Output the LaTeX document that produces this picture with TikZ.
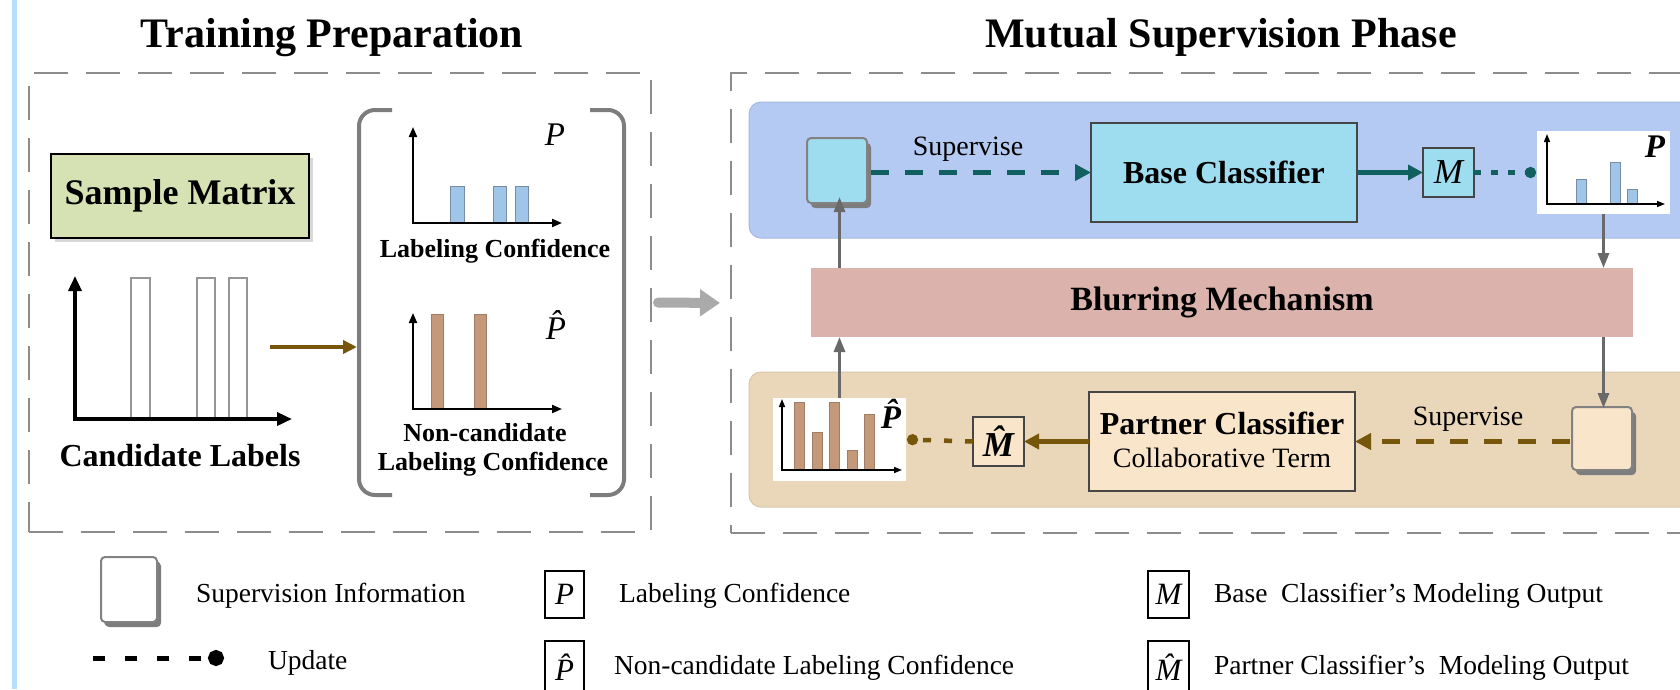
\documentclass[tikz,border=0pt]{standalone}
\usepackage{fontspec}
\setmainfont{Liberation Serif}
\usetikzlibrary{arrows.meta,shadows}

\definecolor{sidebar}{RGB}{179,224,255}
\definecolor{framegray}{RGB}{140,140,140}
\definecolor{matrixgreen}{RGB}{214,225,180}
\definecolor{confblue}{RGB}{159,197,232}
\definecolor{pbaredge}{RGB}{120,140,165}
\definecolor{noncand}{RGB}{196,153,122}
\definecolor{nbaredge}{RGB}{160,125,100}
\definecolor{panelblue}{RGB}{180,202,242}
\definecolor{panelblueedge}{RGB}{165,185,225}
\definecolor{cyanbox}{RGB}{158,220,240}
\definecolor{arrowteal}{RGB}{16,96,96}
\definecolor{blurpink}{RGB}{219,178,172}
\definecolor{paneltan}{RGB}{234,215,186}
\definecolor{paneltanedge}{RGB}{215,198,172}
\definecolor{peach}{RGB}{249,229,202}
\definecolor{arrowbrown}{RGB}{117,86,10}
\definecolor{linkgray}{RGB}{105,105,105}
\definecolor{bracketgray}{RGB}{125,125,125}
\definecolor{bigarrowgray}{RGB}{170,170,170}
\definecolor{cubeedge}{RGB}{130,130,130}
\definecolor{cubeshade}{RGB}{125,125,125}
\definecolor{blockedge}{RGB}{70,70,70}
\definecolor{candedge}{RGB}{150,150,150}

\newcommand\pxsize[1]{\fontsize{#1}{#1}\selectfont}

\begin{document}
\begin{tikzpicture}[x=1pt, y=-1pt,
  every node/.style={inner sep=0pt, outer sep=0pt},
  dashframe/.style={draw=framegray, line width=2pt, dash pattern=on 34pt off 18pt},
  matrixbox/.style={draw=black, line width=2.2pt, fill=matrixgreen,
    drop shadow={shadow xshift=4pt, shadow yshift=-4pt, opacity=0.3}},
  panel/.style={rounded corners=12pt, line width=1pt},
  cube/.style={draw=cubeedge, line width=2pt, rounded corners=4pt,
    general shadow={fill=cubeshade, shadow xshift=4pt, shadow yshift=-5pt}},
  block/.style={draw=blockedge, line width=1.3pt},
  chartbg/.style={fill=white},
  axisbold/.style={line width=3.5pt, >={Triangle[length=15pt,width=13pt]}, <->},
  axisthin/.style={line width=2pt, >={Triangle[length=10pt,width=8pt]}, <->},
  axistiny/.style={line width=1.5pt, >={Triangle[length=8pt,width=6pt]}, <->},
  candbar/.style={fill=white, draw=candedge, line width=1.5pt},
  pbar/.style={fill=confblue, draw=pbaredge, line width=1pt},
  nbar/.style={fill=noncand, draw=nbaredge, line width=1pt},
  tealdash/.style={draw=arrowteal, line width=5pt, dash pattern=on 18pt off 16pt,
    -{Triangle[length=16pt,width=16pt]}},
  tealsolid/.style={draw=arrowteal, line width=4.5pt, -{Triangle[length=15pt,width=15pt]}},
  tealdot/.style={draw=arrowteal, line width=4.5pt, dash pattern=on 7pt off 10pt,
    -{Circle[length=11pt]}},
  browndash/.style={draw=arrowbrown, line width=5pt, dash pattern=on 18pt off 16pt,
    -{Triangle[length=16pt,width=16pt]}},
  brownsolid/.style={draw=arrowbrown, line width=4.5pt, -{Triangle[length=15pt,width=15pt]}},
  browndot/.style={draw=arrowbrown, line width=4.5pt, dash pattern=on 8pt off 13pt,
    -{Circle[length=11pt]}},
  linkarrow/.style={draw=linkgray, line width=3pt, -{Triangle[length=15pt,width=11pt]}},
  bracketline/.style={draw=bracketgray, line width=4pt, rounded corners=16pt},
  bigarrow/.style={draw=bigarrowgray, line width=10pt, line cap=round,
    -{Triangle[length=20pt,width=26pt]}},
  updateline/.style={draw=black, line width=5pt, dash pattern=on 12pt off 20pt,
    -{Circle[length=16pt]}},
  legbox/.style={draw=black, line width=1.5pt, fill=white, font=\pxsize{31}\itshape},
  legtext/.style={font=\pxsize{27.5}, anchor=base west},
  titletext/.style={font=\pxsize{42}\bfseries, anchor=base},
  supertext/.style={font=\pxsize{28}, anchor=base},
]
\useasboundingbox (0,0) rectangle (1680,689);
\clip (0,0) rectangle (1680,689);
\fill[white] (0,0) rectangle (1680,689);
\fill[sidebar] (12,0) rectangle (17,689);

% ---------- headings ----------
\node[titletext] (titleprep) at (332,47) {Training Preparation};
\node[titletext] (titlemutual) at (1221,47) {Mutual Supervision Phase};

% ---------- frames ----------
\node[dashframe, anchor=north west, minimum width=622pt, minimum height=459pt] (prepframe) at (29,73) {};
\node[dashframe, anchor=north west, minimum width=1000pt, minimum height=460pt] (mutualframe) at (731,73) {};

% ---------- training preparation ----------
\node[matrixbox, anchor=north west, minimum width=258pt, minimum height=84pt,
      font=\pxsize{36}\bfseries] (samplematrix) at (51,154) {Sample Matrix};

% candidate label chart
\draw[candbar] (131,278) rectangle (150,419);
\draw[candbar] (197,278) rectangle (215,419);
\draw[candbar] (229,278) rectangle (247,419);
\coordinate (candY) at (75,276);
\coordinate (candX) at (292,419);
\draw[axisbold] (candY) |- (candX);
\node[font=\pxsize{32}\bfseries, anchor=base] (candlabel) at (180,466) {Candidate Labels};

\coordinate (candout) at (270,347);
\coordinate (bracketin) at (357,347);
\draw[draw=arrowbrown, line width=4pt, -{Triangle[length=14pt,width=13pt]}] (candout) -- (bracketin);

% bracket around the two confidence charts
\draw[bracketline] (392,110) -- (359,110) -- (359,495) -- (392,495);
\draw[bracketline] (590,110) -- (624,110) -- (624,495) -- (590,495);

% labeling confidence chart
\draw[pbar] (450,186) rectangle (464,223);
\draw[pbar] (493,186) rectangle (506,223);
\draw[pbar] (515,186) rectangle (528,223);
\coordinate (confY) at (413,127);
\coordinate (confX) at (562,223);
\draw[axisthin] (confY) |- (confX);
\node[font=\pxsize{33}\itshape, anchor=base] (confsym) at (555,145) {P};
\node[font=\pxsize{26}\bfseries, anchor=base] (conflabel) at (495,257) {Labeling Confidence};

% non-candidate labeling confidence chart
\draw[nbar] (431.5,314) rectangle (443,409);
\draw[nbar] (474,314) rectangle (486.5,409);
\coordinate (ncY) at (413,313);
\coordinate (ncX) at (562,409);
\draw[axisthin] (ncY) |- (ncX);
\node[font=\pxsize{33}\itshape, anchor=base] (ncsym) at (556,339) {\^{P}};
\node[font=\pxsize{26}\bfseries, anchor=base] (nclabelA) at (485,441) {Non-candidate};
\node[font=\pxsize{26}\bfseries, anchor=base] (nclabelB) at (493,470) {Labeling Confidence};

% hand-over arrow between the two phases
\draw[bigarrow, shorten <=7pt, shorten >=11pt] (prepframe.east) -- (mutualframe.west);

% ---------- mutual supervision ----------
\node[panel, fill=panelblue, draw=panelblueedge, anchor=north west,
      minimum width=1000pt, minimum height=136pt] (basepanel) at (749,102) {};
\node[panel, fill=paneltan, draw=paneltanedge, anchor=north west,
      minimum width=1000pt, minimum height=135pt] (partnerpanel) at (749,372) {};
\node[fill=blurpink, anchor=north west, minimum width=822pt, minimum height=69pt,
      font=\pxsize{34}\bfseries] (blur) at (811,268) {Blurring Mechanism};

% base classifier row
\node[cube, fill=cyanbox, anchor=north west, minimum width=60pt, minimum height=65pt] (supA) at (807,138) {};
\node[block, fill=cyanbox, anchor=north west, minimum width=266pt, minimum height=99pt,
      font=\pxsize{32}\bfseries] (base) at (1091,123) {Base Classifier};
\node[block, fill=cyanbox, anchor=north west, minimum width=51pt, minimum height=49pt,
      font=\pxsize{35}\itshape] (mout) at (1423,148) {M};
\node[chartbg, anchor=north west, minimum width=133pt, minimum height=83pt] (pchart) at (1537,131) {};
\draw[pbar] (1576,179) rectangle (1586,204);
\draw[pbar] (1610,162) rectangle (1620,204);
\draw[pbar] (1627,189) rectangle (1637,204);
\coordinate (pchY) at (1547,134);
\coordinate (pchX) at (1665,204);
\draw[axistiny] (pchY) |- (pchX);
\node[font=\pxsize{33}\bfseries\itshape, anchor=base] (pchsym) at (1655,157) {P};

\draw[tealdash] ([xshift=4pt]supA.east |- base.west) -- (base.west);
\node[supertext] (superviseA) at (968,155) {Supervise};
\draw[tealsolid] (base.east) -- (mout.west);
\draw[tealdot] (mout.east) -- ([xshift=-1pt]pchart.west);

% partner classifier row
\node[cube, fill=peach, anchor=north west, minimum width=60pt, minimum height=63pt] (supB) at (1572,407) {};
\node[block, fill=peach, anchor=north west, minimum width=266pt, minimum height=99pt] (partner) at (1089,392) {};
\node[font=\pxsize{32}\bfseries, anchor=base] (partnerA) at (1222,434) {Partner Classifier};
\node[font=\pxsize{28}, anchor=base] (partnerB) at (1222,467) {Collaborative Term};
\node[block, fill=peach, anchor=north west, minimum width=51pt, minimum height=49pt,
      font=\pxsize{35}\bfseries\itshape] (mhat) at (973,417) {\^{M}};
\node[chartbg, anchor=north west, minimum width=133pt, minimum height=83pt] (phchart) at (773,398) {};
\draw[nbar] (794,402) rectangle (804,470);
\draw[nbar] (812,432) rectangle (822,470);
\draw[nbar] (829,402) rectangle (839,470);
\draw[nbar] (847,450) rectangle (857,470);
\draw[nbar] (864,414) rectangle (874,470);
\coordinate (phY) at (782,399);
\coordinate (phX) at (902,470);
\draw[axistiny] (phY) |- (phX);
\node[font=\pxsize{33}\bfseries\itshape, anchor=base] (phsym) at (891,428) {\^{P}};

\draw[browndash] ([xshift=-2pt]supB.west |- partner.east) -- (partner.east);
\node[supertext] (superviseB) at (1468,425) {Supervise};
\draw[brownsolid] (partner.west) -- (mhat.east);
\draw[browndot] (mhat.west) -- ([xshift=1pt]phchart.east);

% links through the blurring mechanism
\draw[linkarrow] (pchart.south) -- (pchart.south |- blur.north);
\draw[linkarrow] (pchart.south |- blur.south) -- ([yshift=-1pt]pchart.south |- supB.north);
\draw[linkarrow] (phchart.north) -- (phchart.north |- blur.south);
\draw[linkarrow] (phchart.north |- blur.north) -- ([yshift=6pt]phchart.north |- supA.south);

% ---------- legend ----------
\node[cube, fill=white, anchor=north west, minimum width=56pt, minimum height=65pt,
      general shadow={fill=cubeshade, shadow xshift=3pt, shadow yshift=-4pt}] (legcube) at (101,557) {};
\node[legtext] (legcubetext) at (196,602) {Supervision Information};
\coordinate (updstart) at (93,658);
\coordinate (updend) at (224,658);
\draw[updateline] (updstart) -- (updend);
\node[legtext] (legupdate) at (268,669) {Update};

\node[legbox, anchor=north west, minimum width=39pt, minimum height=47pt] (legP) at (545,571) {P};
\node[legtext] (legPtext) at (619,602) {Labeling Confidence};
\node[legbox, anchor=north west, minimum width=39pt, minimum height=52pt] (legPh) at (545,641) {\^{P}};
\node[legtext] (legPhtext) at (614,674) {Non-candidate Labeling Confidence};

\node[legbox, anchor=north west, minimum width=41pt, minimum height=47pt] (legM) at (1148,571) {M};
\node[legtext] (legMtext) at (1214,602) {Base\ \ Classifier’s Modeling Output};
\node[legbox, anchor=north west, minimum width=41pt, minimum height=52pt] (legMh) at (1148,641) {\^{M}};
\node[legtext] (legMhtext) at (1214,674) {Partner Classifier’s\ \ Modeling Output};
\end{tikzpicture}
\end{document}
